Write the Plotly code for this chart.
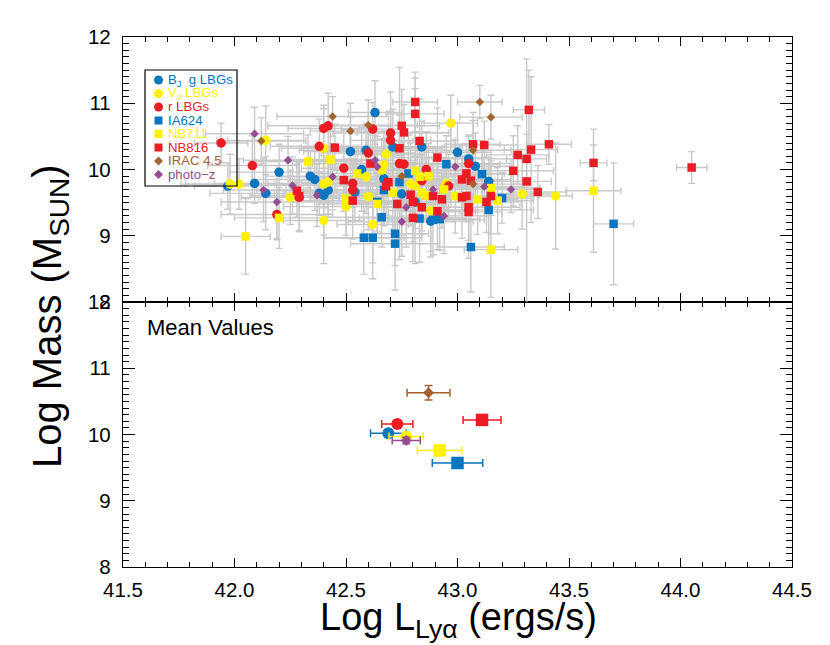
import plotly.graph_objects as go

# ---------------- data ----------------
# B_J, g LBGs (blue circles)
bj_x = [41.97, 42.20, 42.09, 42.14, 42.34, 42.36, 42.38, 42.40, 42.42, 42.52, 42.59, 42.57, 42.54, 42.63, 42.71, 42.84, 43.00, 43.05, 43.08, 43.14, 42.75, 42.88, 42.67, 42.81]
bj_y = [9.75, 9.96, 9.79, 9.64, 9.90, 9.85, 9.64, 9.61, 9.69, 10.27, 10.29, 10.00, 9.66, 10.86, 10.34, 10.34, 10.26, 10.16, 10.05, 9.82, 9.63, 9.22, 9.86, 9.51]
bj_xe = [0.15, 0.22, 0.18, 0.25, 0.20, 0.28, 0.16, 0.24, 0.19, 0.21, 0.30, 0.14, 0.26, 0.12, 0.23, 0.18, 0.15, 0.20, 0.17, 0.13, 0.22, 0.19, 0.27, 0.16]
bj_ye = [0.35, 0.42, 0.30, 0.55, 0.38, 0.47, 0.33, 0.60, 0.41, 0.52, 0.36, 0.63, 0.44, 0.48, 0.57, 0.39, 0.45, 0.34, 0.50, 0.37, 0.62, 0.46, 0.71, 0.40]

# V_J LBGs (yellow circles)
v_x = [41.98, 42.02, 42.14, 42.25, 42.40, 42.40, 42.42, 42.59, 42.50, 42.40, 42.60, 42.62, 42.67, 42.66, 42.68, 42.79, 42.81, 42.88, 42.95, 42.97, 42.99, 43.29, 43.44]
v_y = [9.78, 9.78, 10.44, 9.58, 10.32, 9.78, 9.81, 9.89, 9.44, 9.23, 9.59, 9.17, 10.07, 9.99, 10.23, 9.78, 9.76, 9.38, 9.79, 10.70, 9.60, 9.63, 9.60]
v_xe = [0.20, 0.26, 0.17, 0.22, 0.19, 0.25, 0.15, 0.21, 0.28, 0.18, 0.23, 0.16, 0.24, 0.20, 0.14, 0.22, 0.27, 0.19, 0.17, 0.12, 0.21, 0.15, 0.075]
v_ye = [0.45, 0.38, 0.52, 0.41, 0.60, 0.36, 0.48, 0.55, 0.43, 0.65, 0.50, 0.58, 0.40, 0.47, 0.35, 0.62, 0.44, 0.70, 0.39, 0.42, 0.56, 0.53, 0.80]

# r LBGs (red circles)
r_x = [41.94, 42.08, 42.19, 42.29, 42.38, 42.40, 42.42, 42.49, 42.53, 42.53, 42.60, 42.62, 42.70, 42.70, 42.74, 42.76, 42.84, 42.86, 43.05, 42.96]
r_y = [10.40, 10.06, 9.32, 9.58, 10.35, 10.62, 10.66, 10.02, 9.79, 9.69, 10.25, 10.61, 10.55, 10.44, 10.09, 10.08, 9.83, 10.00, 10.09, 9.75]
r_xe = [0.12, 0.20, 0.25, 0.18, 0.22, 0.16, 0.27, 0.19, 0.23, 0.15, 0.21, 0.14, 0.26, 0.18, 0.20, 0.24, 0.17, 0.22, 0.19, 0.16]
r_ye = [0.30, 0.45, 0.38, 0.52, 0.41, 0.35, 0.49, 0.58, 0.36, 0.47, 0.55, 0.40, 0.62, 0.44, 1.45, 0.51, 0.39, 0.57, 0.43, 0.48]

# IA624 (blue squares)
ia_x = [42.58, 42.62, 42.72, 42.72, 42.66, 42.67, 42.74, 42.78, 42.95, 43.11, 43.20, 43.14, 43.06, 42.92, 42.89, 42.83, 43.70, 42.64]
ia_y = [8.97, 8.97, 9.03, 8.88, 9.28, 9.69, 9.81, 9.94, 10.08, 9.93, 9.57, 9.39, 8.83, 9.25, 9.24, 9.26, 9.18, 9.51]
ia_xe = [0.18, 0.22, 0.15, 0.20, 0.25, 0.17, 0.21, 0.19, 0.24, 0.16, 0.13, 0.20, 0.15, 0.18, 0.23, 0.21, 0.09, 0.26]
ia_ye = [0.55, 0.62, 0.48, 0.70, 0.45, 0.52, 0.40, 0.58, 0.43, 0.50, 0.38, 0.60, 0.68, 0.47, 0.53, 0.66, 0.92, 0.44]

# NB711 (yellow squares)
nb7_x = [42.05, 42.20, 42.33, 42.43, 42.55, 42.50, 42.64, 42.71, 42.81, 42.83, 42.87, 42.84, 42.86, 42.94, 43.09, 43.15, 43.18, 43.15, 43.61]
nb7_y = [8.99, 9.27, 10.12, 10.15, 9.94, 9.56, 9.48, 9.65, 9.98, 9.89, 9.90, 9.65, 9.61, 9.70, 9.55, 9.72, 9.53, 8.79, 9.68]
nb7_xe = [0.11, 0.20, 0.24, 0.18, 0.22, 0.16, 0.26, 0.19, 0.21, 0.15, 0.23, 0.17, 0.20, 0.14, 0.18, 0.22, 0.16, 0.12, 0.123]
nb7_ye = [0.57, 0.46, 0.40, 0.52, 0.38, 0.60, 0.44, 0.55, 1.40, 0.42, 0.49, 0.58, 0.36, 0.47, 0.53, 0.41, 0.50, 0.72, 0.93]

# NB816 (red squares)
nb8_x = [42.28, 42.29, 42.45, 42.49, 42.53, 42.81, 42.81, 42.75, 42.76, 42.74, 42.83, 43.32, 43.41, 43.33, 43.27, 43.31, 43.25, 43.31, 43.36, 43.61, 43.07, 43.12, 42.91, 43.04, 43.02, 43.06, 43.15, 43.13, 43.02, 43.04, 43.05, 43.05, 42.93, 42.91, 42.80, 42.84, 42.73, 42.79, 42.80, 42.89, 42.69, 42.68, 42.61, 44.05]
nb8_y = [9.68, 9.60, 10.33, 9.84, 9.53, 11.02, 10.84, 10.66, 10.56, 10.32, 10.43, 10.90, 10.38, 10.30, 10.22, 10.16, 9.98, 9.82, 9.66, 10.10, 10.38, 10.37, 10.18, 9.94, 9.85, 9.83, 9.60, 9.51, 9.58, 9.60, 9.36, 9.43, 9.55, 9.37, 9.27, 9.43, 9.48, 9.62, 9.51, 9.60, 9.81, 9.75, 10.09, 10.03]
nb8_xe = [0.18, 0.22, 0.15, 0.20, 0.25, 0.10, 0.13, 0.17, 0.21, 0.19, 0.16, 0.07, 0.10, 0.12, 0.14, 0.09, 0.18, 0.11, 0.13, 0.06, 0.12, 0.15, 0.20, 0.17, 0.22, 0.14, 0.19, 0.16, 0.21, 0.18, 0.15, 0.23, 0.20, 0.17, 0.24, 0.19, 0.22, 0.16, 0.25, 0.18, 0.21, 0.23, 0.26, 0.068]
nb8_ye = [0.40, 0.52, 0.35, 0.47, 0.58, 0.45, 0.38, 0.55, 0.42, 0.50, 0.63, 0.60, 0.30, 1.10, 0.44, 0.37, 0.53, 1.85, 0.40, 0.27, 0.48, 0.36, 0.75, 0.45, 0.52, 0.40, 0.57, 0.46, 0.62, 0.39, 0.70, 0.50, 0.43, 0.58, 0.66, 0.41, 0.54, 0.47, 0.60, 0.38, 0.51, 0.44, 0.56, 0.24]

# IRAC 4.5 (brown diamonds)
ir_x = [42.12, 42.44, 42.52, 42.60, 43.10, 43.15, 43.07, 42.75, 43.07]
ir_y = [10.43, 10.80, 10.58, 10.67, 11.02, 10.79, 10.29, 9.90, 9.78]
ir_xe = [0.20, 0.25, 0.18, 0.22, 0.10, 0.14, 0.17, 0.19, 0.23]
ir_ye = [0.35, 0.30, 0.42, 0.38, 0.25, 0.33, 0.45, 0.50, 0.40]

# photo-z (purple diamonds)
pz_x = [42.09, 42.13, 42.19, 42.24, 42.26, 42.44, 42.63, 42.64, 42.77, 42.75, 42.99, 42.94, 43.12, 43.24, 42.89, 42.37]
pz_y = [10.54, 9.69, 9.51, 10.14, 9.76, 9.89, 10.14, 10.04, 9.43, 9.21, 10.04, 9.30, 9.74, 9.70, 9.70, 9.61]
pz_xe = [0.22, 0.18, 0.25, 0.20, 0.16, 0.23, 0.19, 0.21, 0.17, 0.24, 0.15, 0.20, 0.18, 0.13, 0.22, 0.19]
pz_ye = [0.40, 0.48, 0.55, 0.36, 0.43, 0.50, 0.38, 0.46, 0.60, 0.52, 0.41, 0.57, 0.44, 0.35, 0.49, 0.47]

# Mean values (same order as the legend)
mean_x = [42.69, 42.77, 42.73, 43.00, 42.92, 43.11, 42.87, 42.77]
mean_y = [10.02, 9.97, 10.16, 9.57, 9.76, 10.22, 10.63, 9.91]
mean_xe = [0.08, 0.077, 0.07, 0.113, 0.10, 0.085, 0.096, 0.063]
mean_ye = [0.05, 0.05, 0.05, 0.05, 0.05, 0.05, 0.11, 0.05]

labels = ["B<sub>J</sub>\u00a0 g LBGs", "V<sub>J</sub> LBGs", "r LBGs", "IA624",
          "NB711", "NB816", "IRAC 4.5", "photo\u2212z"]
x_ticks = [41.5, 42.0, 42.5, 43.0, 43.5, 44.0, 44.5]
y_ticks = [8, 9, 10, 11, 12]

# ---------------- style ----------------
BLUE = "#0a76c0"
YEL = "#fff200"
RED = "#ec1c24"
BROWN = "#a5612e"
PURP = "#954d93"
GREY = "#c9c9c9"

series = [
    (bj_x, bj_y, bj_xe, bj_ye, BLUE, "circle", 9.5),
    (v_x, v_y, v_xe, v_ye, YEL, "circle", 9.5),
    (r_x, r_y, r_xe, r_ye, RED, "circle", 9.5),
    (ia_x, ia_y, ia_xe, ia_ye, BLUE, "square", 8.5),
    (nb7_x, nb7_y, nb7_xe, nb7_ye, YEL, "square", 8.5),
    (nb8_x, nb8_y, nb8_xe, nb8_ye, RED, "square", 8.5),
    (ir_x, ir_y, ir_xe, ir_ye, BROWN, "diamond", 6.5),
    (pz_x, pz_y, pz_xe, pz_ye, PURP, "diamond", 6.5),
]
mean_sizes = [12, 12, 12, 12.5, 12.5, 12.5, 8.5, 8.5]

FONT = "Liberation Sans, Arial, Helvetica, sans-serif"

fig = go.Figure()

# grey error bars first (under every marker)
for xs, ys, xe, ye, col, sym, sz in series:
    fig.add_trace(go.Scatter(
        x=xs, y=ys, mode="markers", xaxis="x2", yaxis="y2",
        marker=dict(size=2, opacity=0),
        error_x=dict(type="data", array=xe, color=GREY, thickness=1.4, width=3.5),
        error_y=dict(type="data", array=ye, color=GREY, thickness=1.4, width=3.5),
        hoverinfo="skip", showlegend=False))

for xs, ys, xe, ye, col, sym, sz in series:
    fig.add_trace(go.Scatter(
        x=xs, y=ys, mode="markers", xaxis="x2", yaxis="y2",
        marker=dict(size=sz, color=col, symbol=sym, line=dict(width=0)),
        hoverinfo="skip", showlegend=False))

# mean values panel
for i, (xs, ys, xe, ye, col, sym, sz) in enumerate(series):
    fig.add_trace(go.Scatter(
        x=[mean_x[i]], y=[mean_y[i]], mode="markers", xaxis="x", yaxis="y",
        marker=dict(size=mean_sizes[i], color=col, symbol=sym, line=dict(width=0)),
        error_x=dict(type="data", array=[mean_xe[i]], color=col, thickness=1.5, width=4),
        error_y=dict(type="data", array=[mean_ye[i]], color=col, thickness=1.5, width=4),
        hoverinfo="skip", showlegend=False))

L, R, T, B = 123, 38, 37, 78
W, H = 830, 645
PW, PH = W - L - R, H - T - B


def px_x(p):
    return (p - L) / PW


def px_y(p):
    return (H - B - p) / PH


axis_common = dict(
    showline=True, linecolor="black", linewidth=1.3, mirror="ticks",
    ticks="inside", tickcolor="black", tickwidth=1, showgrid=False, zeroline=False,
    tickfont=dict(family=FONT, size=20.5, color="black"),
)

xcommon = dict(axis_common, range=[41.5, 44.5], tickmode="array", tickvals=x_ticks,
               ticklen=9, minor=dict(dtick=0.1, ticklen=4.5, ticks="inside",
                                     tickcolor="black", tickwidth=1, showgrid=False))
ycommon = dict(axis_common, range=[8, 12], tickmode="array", tickvals=y_ticks,
               ticklen=12, minor=dict(dtick=0.1, ticklen=6, ticks="inside",
                                      tickcolor="black", tickwidth=1, showgrid=False),
               ticklabelstandoff=7)

fig.update_layout(
    width=W, height=H,
    margin=dict(l=L, r=R, t=T, b=B),
    paper_bgcolor="white", plot_bgcolor="white",
    showlegend=False,
    xaxis=dict(xcommon, domain=[0, 1], anchor="y", tickformat=".1f", ticklabelstandoff=4),
    yaxis=dict(ycommon, domain=[0, 0.5], anchor="x"),
    xaxis2=dict(xcommon, domain=[0, 1], anchor="y2", showticklabels=False),
    yaxis2=dict(ycommon, domain=[0.5, 1], anchor="x2"),
)

ann = []
# axis titles
ann.append(dict(text="Log Mass (M<sub>SUN</sub>)", x=px_x(50), y=px_y(316),
                xref="paper", yref="paper", showarrow=False, textangle=-90,
                xanchor="center", yanchor="middle",
                font=dict(family=FONT, size=40, color="black")))
ann.append(dict(text="Log L<sub>Ly\u03b1</sub> (ergs/s)", x=px_x(458), y=px_y(620),
                xref="paper", yref="paper", showarrow=False,
                xanchor="center", yanchor="middle",
                font=dict(family=FONT, size=38, color="black")))
ann.append(dict(text="Mean Values", x=px_x(145), y=px_y(327), xref="paper", yref="paper",
                showarrow=False, xanchor="left", yanchor="middle",
                font=dict(family=FONT, size=22, color="black")))

# hand-made legend (compact, transparent box)
shapes = [dict(type="rect", xref="paper", yref="paper",
               x0=px_x(145), x1=px_x(237), y0=px_y(186), y1=px_y(70),
               line=dict(color="black", width=1.2), fillcolor="rgba(0,0,0,0)", layer="above")]
leg_y = [80, 93.5, 107, 120.5, 134, 147.5, 161, 174.5]
for i, (xs, ys, xe, ye, col, sym, sz) in enumerate(series):
    cy = leg_y[i]
    common = dict(xref="paper", yref="paper", xsizemode="pixel", ysizemode="pixel",
                  xanchor=px_x(158.5), yanchor=px_y(cy), fillcolor=col,
                  line=dict(width=0), layer="above")
    if sym == "circle":
        shapes.append(dict(common, type="circle", x0=-4.5, x1=4.5, y0=-4.5, y1=4.5))
    elif sym == "square":
        shapes.append(dict(common, type="rect", x0=-4, x1=4, y0=-4, y1=4))
    else:
        shapes.append(dict(common, type="path", path="M 0 4.5 L 4.5 0 L 0 -4.5 L -4.5 0 Z"))
    ann.append(dict(text=labels[i], x=px_x(165.5), y=px_y(cy), xref="paper", yref="paper",
                    showarrow=False, xanchor="left", yanchor="middle",
                    font=dict(family=FONT, size=13.2, color=col)))

fig.update_layout(annotations=ann, shapes=shapes)

fig.write_html("out.html", config={"displayModeBar": False},
               post_script="document.body.style.margin='0px';document.body.style.overflow='hidden';")
